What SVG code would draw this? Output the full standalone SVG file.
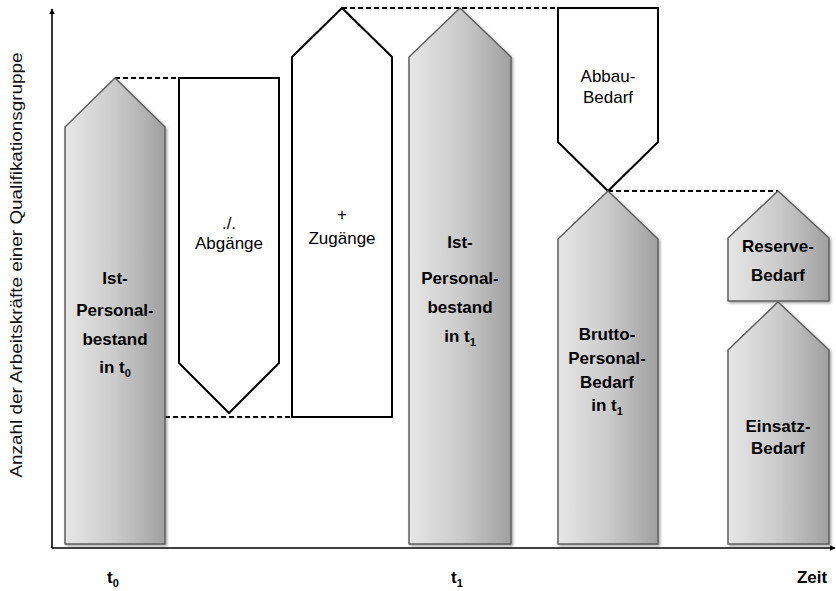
<svg xmlns="http://www.w3.org/2000/svg" width="836" height="591" viewBox="0 0 836 591">
  <style>
    .t { font-family: "Liberation Sans", Arial, sans-serif; font-size: 17px; fill: #000; text-anchor: middle; }
    .b { font-weight: bold; }
    .sub { font-size: 11px; }
    .ylab { font-size: 17px; fill: #111; }
    .bar { fill: url(#grey); stroke: #5f5f5f; stroke-width: 1.5; stroke-linejoin: round; filter: url(#shadow); }
    .flow { fill: #fff; stroke: #000; stroke-width: 2; stroke-linejoin: miter; }
    .dash { fill: none; stroke: #000; stroke-width: 2; stroke-dasharray: 5 3; }
    .axis { fill: none; stroke: #000; stroke-width: 1.6; }
  </style>
  <defs>
    <linearGradient id="grey" x1="0" y1="0" x2="1" y2="0">
      <stop offset="0" stop-color="#e6e6e6"/>
      <stop offset="0.5" stop-color="#cbcbcb"/>
      <stop offset="1" stop-color="#a0a0a0"/>
    </linearGradient>
    <filter id="shadow" x="-10%" y="-10%" width="125%" height="125%">
      <feDropShadow dx="1.5" dy="1.5" stdDeviation="1" flood-color="#000" flood-opacity="0.35"/>
    </filter>
    <marker id="arrow" viewBox="0 0 10 10" refX="9" refY="5" markerWidth="6" markerHeight="6" orient="auto" markerUnits="userSpaceOnUse">
      <path d="M0,0 L10,5 L0,10 Z" fill="#000"/>
    </marker>
  </defs>

  <rect width="836" height="591" fill="#fff"/>

  <!-- axes -->
  <g id="axes">
    <path class="axis" d="M52,548 V9" marker-end="url(#arrow)"/>
    <path class="axis" d="M52,548 H835" marker-end="url(#arrow)"/>
    <text class="t ylab" transform="translate(22,265) rotate(-90)" textLength="425" lengthAdjust="spacingAndGlyphs">Anzahl der Arbeitskräfte einer Qualifikationsgruppe</text>
    <text class="t b" x="113" y="583">t<tspan class="sub" dy="4">0</tspan></text>
    <text class="t b" x="457" y="583">t<tspan class="sub" dy="4">1</tspan></text>
    <text class="t b" x="812" y="583">Zeit</text>
  </g>

  <!-- dashed level connectors -->
  <g id="connectors">
    <path class="dash" d="M115,78 H179"/>
    <path class="dash" d="M165,417 H292"/>
    <path class="dash" d="M342,8 H558"/>
    <path class="dash" d="M608,191 H778"/>
  </g>

  <g id="ist-t0">
    <path class="bar" d="M65,544 V127 L115,78 L165,127 V544 Z"/>
    <text class="t b" x="115" y="284">Ist-</text>
    <text class="t b" x="115" y="316">Personal-</text>
    <text class="t b" x="115" y="345">bestand</text>
    <text class="t b" x="115" y="373">in t<tspan class="sub" dy="4">0</tspan></text>
  </g>

  <g id="abgaenge">
    <path class="flow" d="M179,78 H279 V363 L229,413 L179,363 Z"/>
    <text class="t" x="229" y="229">./.</text>
    <text class="t" x="229" y="249">Abgänge</text>
  </g>

  <g id="zugaenge">
    <path class="flow" d="M292,417 V57 L342,8 L392,57 V417 Z"/>
    <text class="t" x="342" y="220">+</text>
    <text class="t" x="342" y="244">Zugänge</text>
  </g>

  <g id="ist-t1">
    <path class="bar" d="M409,544 V57 L460,8 L511,57 V544 Z"/>
    <text class="t b" x="460" y="248">Ist-</text>
    <text class="t b" x="460" y="284">Personal-</text>
    <text class="t b" x="460" y="313">bestand</text>
    <text class="t b" x="460" y="342">in t<tspan class="sub" dy="4">1</tspan></text>
  </g>

  <g id="abbau">
    <path class="flow" d="M558,8 H658 V142 L608,191 L558,142 Z"/>
    <text class="t" x="608" y="82">Abbau-</text>
    <text class="t" x="608" y="103">Bedarf</text>
  </g>

  <g id="brutto">
    <path class="bar" d="M558,544 V239 L608,191 L658,239 V544 Z"/>
    <text class="t b" x="607" y="340">Brutto-</text>
    <text class="t b" x="607" y="364">Personal-</text>
    <text class="t b" x="607" y="388">Bedarf</text>
    <text class="t b" x="607" y="411">in t<tspan class="sub" dy="4">1</tspan></text>
  </g>

  <g id="reserve">
    <path class="bar" d="M728,301 V238 L778,191 L829,238 V301 Z"/>
    <text class="t b" x="778" y="252">Reserve-</text>
    <text class="t b" x="778" y="281">Bedarf</text>
  </g>

  <g id="einsatz">
    <path class="bar" d="M728,544 V350 L778,302 L829,350 V544 Z"/>
    <text class="t b" x="778" y="432">Einsatz-</text>
    <text class="t b" x="778" y="454">Bedarf</text>
  </g>
</svg>
